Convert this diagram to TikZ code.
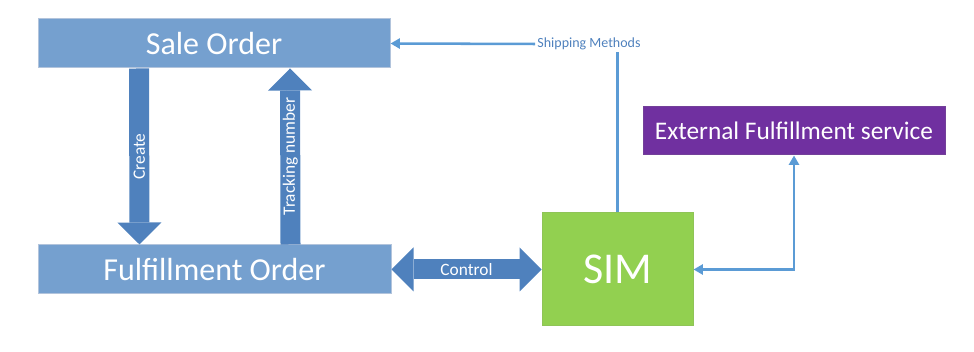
\documentclass[tikz,border=0pt]{standalone}
\usepackage{fontspec}
\setmainfont{Carlito}
\usetikzlibrary{arrows.meta, positioning, calc}
\definecolor{BL}{RGB}{117,160,207}
\definecolor{BE}{RGB}{178,196,220}
\definecolor{BD}{RGB}{79,129,189}
\definecolor{LN}{RGB}{91,155,213}
\definecolor{GR}{RGB}{146,208,80}
\definecolor{PU}{RGB}{112,48,160}

\begin{document}
\begin{tikzpicture}[
  x=0.75pt, y=0.75pt,
  box/.style={draw=#1, line width=0.75pt, fill=#1, text=white, inner sep=0pt},
  blk/.style={draw=BD, line width=15pt,
              -{Triangle[length=16.5pt, width=33pt, line width=0pt]}},
  blk2/.style={draw=BD, line width=15pt,
              {Triangle[length=16.5pt, width=33pt, line width=0pt]}-{Triangle[length=16.5pt, width=33pt, line width=0pt]}},
  lnk/.style={draw=LN, line width=1.9pt, -{Triangle[length=7pt, width=7.5pt]}},
  lbl/.style={text=white, font=\fontsize{13}{15}\selectfont}
]
\useasboundingbox (0,0) rectangle (974,352);
\node[box=BL, draw=BE, minimum width=264pt, minimum height=36.75pt,
      font=\fontsize{24}{28}\selectfont] (sale) at (214,308.5) {Sale Order};
\node[box=BL, draw=BE, minimum width=264.75pt, minimum height=36.75pt,
      font=\fontsize{24}{28}\selectfont] (fulfil) at (214.5,82.5) {Fulfillment Order};
\node[box=GR, draw=GR!85!gray, minimum width=113.25pt, minimum height=84.75pt,
      font=\fontsize{33}{38}\selectfont] (sim) at (617.5,82.5) {SIM};
\node[box=PU, draw=PU!80!gray, minimum width=226.5pt, minimum height=36pt,
      font=\fontsize{19}{22}\selectfont] (ext) at (794,221) {External Fulfillment service};
\node[text=BD, inner sep=1.5pt, font=\fontsize{10.5}{12}\selectfont] (ship) at (589,308) {Shipping Methods};

% block arrows between the orders
\draw[blk] ($(sale.south)+(-75,0)$) -- ($(fulfil.north)+(-75,0)$)
  node[midway, rotate=90, lbl]{Create};
\draw[blk] ($(fulfil.north)+(76,0)$) -- ($(sale.south)+(76,0)$)
  node[midway, rotate=90, lbl]{Tracking number};
\draw[blk2] (fulfil.east) -- (sim.west) node[midway, lbl]{Control};

% thin links
\draw[draw=LN, line width=1.9pt] (sim.north) -- (sim.north |- ship.south);
\draw[lnk] (ship.west) -- (sale.east);
\draw[lnk, {Triangle[length=7pt, width=7.5pt]}-{Triangle[length=7pt, width=7.5pt]}] (sim.east) -| (ext.south);
\end{tikzpicture}
\end{document}
